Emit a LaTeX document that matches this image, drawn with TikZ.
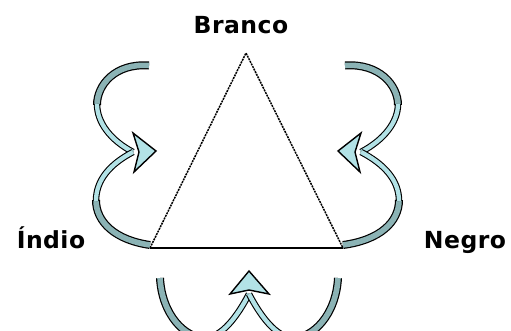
\documentclass[tikz,border=0pt]{standalone}
\usepackage{fontspec}
\newfontfamily\labelfont{DejaVu Sans}[LetterSpace=2]
\definecolor{bandDark}{HTML}{8BB3B5}
\definecolor{bandLight}{HTML}{B2E2E6}
\tikzset{
  darkband/.style={draw=black, line width=8pt, postaction={draw=bandDark, line width=5.6pt}},
  lightband/.style={draw=black, line width=6.5pt, postaction={draw=bandLight, line width=4.3pt}},
  headshape/.style={fill=bandLight, draw=black, line width=1.4pt, line join=miter},
  lbl/.style={font=\labelfont\bfseries\fontsize{23.5}{26}\selectfont, inner sep=0pt},
  side/.style={draw=black, line width=1.5pt, dash pattern=on 2pt off 0.9pt},
  base/.style={draw=black, line width=1.9pt}
}
\begin{document}
\begin{tikzpicture}[x=1pt,y=-1pt]
\useasboundingbox (0,0) rectangle (511,331);
\clip (0,0) rectangle (511,331);
\fill[white] (0,0) rectangle (511,331);
% triangle corners
\coordinate (apex) at (246,53);
\coordinate (bl) at (150,248);
\coordinate (br) at (343,248);
\draw[side] (bl) -- (apex) -- (br);
\draw[base] (bl) -- (br);
% labels
\node[lbl] (branco) at (241,25) {Branco};
\node[lbl, anchor=base] (indio) at (51,248) {Índio};
\node[lbl, anchor=base] (negro) at (465,248) {Negro};
% ---- left arrows
\coordinate (lhead) at (133,152);
\draw[darkband] (149,65.5) .. controls (115,63) and (97,85) .. (97,105);
\draw[lightband] (97,104) .. controls (97,122) and (110,140) .. (lhead);
\draw[darkband] (bl) ++(0,-3) .. controls (115,240) and (96,222) .. (96,200);
\draw[lightband] (96,201) .. controls (96,180) and (110,164) .. (lhead);
\filldraw[headshape] (133,133) -- (156,151) -- (134,172) -- (139,152) -- cycle;
% ---- right arrows
\coordinate (rhead) at (361,152);
\draw[darkband] (345,65.5) .. controls (379,63) and (398,85) .. (398,105);
\draw[lightband] (398,104) .. controls (398,122) and (384,140) .. (rhead);
\draw[darkband] (br) ++(0,-3) .. controls (380,240) and (399,222) .. (399,200);
\draw[lightband] (399,201) .. controls (399,180) and (384,164) .. (rhead);
\filldraw[headshape] (361,133) -- (338,151) -- (360,172) -- (355,152) -- cycle;
% ---- bottom arrows
\coordinate (bhead) at (249,294);
\draw[darkband] (160,278) .. controls (162,315) and (185,338) .. (205,338);
\draw[lightband] (204,338) .. controls (222,338) and (238,315) .. (bhead);
\draw[darkband] (338,278) .. controls (336,315) and (313,338) .. (293,338);
\draw[lightband] (294,338) .. controls (276,338) and (260,315) .. (bhead);
\filldraw[headshape] (230,294) -- (249,271) -- (269,294) -- (249,290) -- cycle;
\end{tikzpicture}
\end{document}
